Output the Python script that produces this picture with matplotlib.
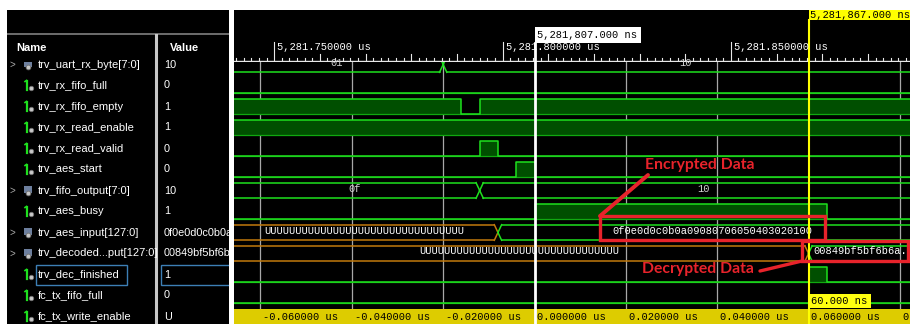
import matplotlib
matplotlib.use("Agg")
import matplotlib.pyplot as plt
from matplotlib.patches import Rectangle

W, H, DPI = 910, 324, 100

# absolute times of the two cursors (ns)
cursor_ns = 5281807
marker_ns = 5281867

signal_names = [
    "trv_uart_rx_byte[7:0]", "trv_rx_fifo_full", "trv_rx_fifo_empty",
    "trv_rx_read_enable", "trv_rx_read_valid", "trv_aes_start",
    "trv_fifo_output[7:0]", "trv_aes_busy", "trv_aes_input[127:0]",
    "trv_decoded...put[127:0]", "trv_dec_finished", "fc_tx_fifo_full",
    "fc_tx_write_enable",
]
signal_values = [
    "10", "0", "1", "1", "0", "0", "10", "1", "0f0e0d0c0b0a09080706050403020100",
    "00849bf5bf6b6a", "1", "0", "U",
]
bus_widths = [8, 1, 1, 1, 1, 1, 8, 1, 128, 128, 1, 1, 1]

# single-bit traces: start level and toggle times, ns relative to cursor
bit_waves = {
    "trv_rx_fifo_full": (0, []),
    "trv_rx_fifo_empty": (1, [-16, -12]),
    "trv_rx_read_enable": (1, []),
    "trv_rx_read_valid": (0, [-12, -8]),
    "trv_aes_start": (0, [-4, 0]),
    "trv_aes_busy": (0, [0, 64]),
    "trv_dec_finished": (0, [60, 64]),
    "fc_tx_fifo_full": (0, []),
}
# bus traces: (change time, value); first entry holds the value before the window
bus_waves = {
    "trv_uart_rx_byte[7:0]": [(None, "01"), (-20, "10")],
    "trv_fifo_output[7:0]": [(None, "0f"), (-12, "10")],
    "trv_aes_input[127:0]": [(None, "U" * 32), (-8, "0f0e0d0c0b0a09080706050403020100")],
    "trv_decoded...put[127:0]": [(None, "U" * 32), (60, "00849bf5bf6b6a")],
}

grid_ns = [-60, -40, -20, 0, 20, 40, 60, 80]

GREEN = "#1ee01e"
FILL = "#004f00"
ORANGE = "#c27a0c"
RED = "#e8232b"
MONO = "Liberation Mono"
SANS = "Liberation Sans"

PX_NS = 4.567          # pixels per ns in the wave view
X0_PX = 534.5          # pixel column of the main cursor
T_LEFT = (234 - X0_PX) / PX_NS
T_RIGHT = (910 - X0_PX) / PX_NS
VIEW_RIGHT = T_RIGHT + 14 / PX_NS
CHAR_NS = 6.25 / PX_NS
XW = 0.8


def px_ns(x):
    return (x - X0_PX) / PX_NS


def panel(x0, y0, x1, y1, xlim=None, color="black"):
    ax = fig.add_axes([x0 / W, 1 - y1 / H, (x1 - x0) / W, (y1 - y0) / H])
    ax.set_facecolor(color)
    ax.set_xlim(xlim if xlim else (x0, x1))
    ax.set_ylim(y1, y0)
    ax.set_xticks([])
    ax.set_yticks([])
    for s in ax.spines.values():
        s.set_visible(False)
    return ax


def row_top(i):
    return 54 + 21 * i


fig = plt.figure(figsize=(W / DPI, H / DPI), dpi=DPI, facecolor="white")

# ---- name / value panel ----
bg = panel(7, 10, 229, 324)
bg.plot([7, 229], [34, 34], color="#808080", lw=1.2)
bg.text(16, 48, "Name", color="white", fontsize=8, fontweight="bold",
        family=SANS, va="center")
bg.text(170, 48, "Value", color="white", fontsize=8, fontweight="bold",
        family=SANS, va="center")
bg.plot([156, 156], [35, 324], color="#c8c8c8", lw=2.2)

ax_n = panel(7, 62, 155, 324)
ax_v = panel(158, 62, 229, 324)
ax_n.patch.set_alpha(0)
ax_v.patch.set_alpha(0)

for i, (name, val, bw) in enumerate(zip(signal_names, signal_values, bus_widths)):
    yc = row_top(i) + 10.5
    if bw > 1:
        ax_n.text(12, yc, ">", color="#a8a8a8", fontsize=7, family=SANS,
                  va="center", ha="center")
        ax_n.add_patch(Rectangle((24, yc - 5), 8, 7, fc="#6d7f9e", ec="none"))
        ax_n.plot([28], [yc + 2], "o", ms=3.4, mfc="#c8c8c8", mec="#707070", mew=0.6)
    else:
        ax_n.plot([26.5, 26.5], [yc - 5, yc + 4], color=GREEN, lw=1.6)
        ax_n.plot([25, 26.5], [yc - 4, yc - 5], color=GREEN, lw=1.2)
        ax_n.plot([31], [yc + 2], "o", ms=3.2, mfc="#c8c8c8", mec="#707070", mew=0.6)
    ax_n.text(38, yc, name, color="white", fontsize=8, family=SANS, va="center")
    ax_v.text(164, yc, val, color="white", fontsize=7.8, family=SANS, va="center")

sel = signal_names.index("trv_dec_finished")
ax_n.add_patch(Rectangle((36, row_top(sel) + 1), 91, 20, fill=False,
                         ec="#3d7fb5", lw=1))
ax_v.add_patch(Rectangle((161, row_top(sel) + 1), 80, 20, fill=False,
                         ec="#3d7fb5", lw=1))

# ---- ruler ----
ax_r = panel(234, 10, 910, 62, xlim=(T_LEFT, T_RIGHT))
ax_r.plot([T_LEFT, T_RIGHT], [61, 61], color="#e8e8e8", lw=1)
base = 5281750
for k in range(-12, 100):
    t_abs = base + k * 5 / 3
    t = t_abs - cursor_ns
    if k % 30 == 0:
        ax_r.plot([t, t], [61, 42], color="#e8e8e8", lw=0.8)
        ax_r.text(t + 0.7, 46.5, f"{t_abs / 1000:,.6f} us", color="white",
                  fontsize=7.5, family=MONO, va="center")
    elif k % 6 == 0:
        ax_r.plot([t, t], [61, 54], color="#e8e8e8", lw=0.8)
    else:
        ax_r.plot([t, t], [61, 58], color="#e8e8e8", lw=0.8)

tip = f"{cursor_ns:,.3f} ns"
ax_r.add_patch(Rectangle((0, 27), len(tip) * CHAR_NS + 1.4, 16, fc="white", ec="none"))
ax_r.text(0.5, 35, tip, color="black", fontsize=7.5, family=MONO, va="center")
ax_r.plot([0, 0], [43, 62], color="white", lw=2)

dt = marker_ns - cursor_ns
ax_r.add_patch(Rectangle((dt, 10), T_RIGHT - dt, 10, fc="#ffff00", ec="none"))
ax_r.text(dt + 0.4, 15.2, f"{marker_ns:,.3f} ns", color="black", fontsize=7.5,
          family=MONO, va="center")
ax_r.plot([dt, dt], [20, 62], color="#ffff00", lw=1.5)

# ---- waveforms ----
ax_w = panel(234, 62, 910, 309, xlim=(T_LEFT, T_RIGHT))
for g in grid_ns:
    if g not in (0, dt):
        ax_w.plot([g, g], [62, 309], color="#a8a8a8", lw=0.9, zorder=1)

for i, name in enumerate(signal_names):
    hi = row_top(i) + 3
    lo = row_top(i) + 18.3
    if name in bit_waves:
        level, edges = bit_waves[name]
        xs, ys = [T_LEFT - 2], [level]
        for e in edges:
            level = 1 - level
            xs.append(e)
            ys.append(level)
        xs.append(T_RIGHT + 2)
        ys.append(level)
        yp = [hi if v else lo for v in ys]
        ax_w.fill_between(xs, yp, lo, step="post", color=FILL, lw=0, zorder=2)
        ax_w.plot([xs[0], xs[-1]], [lo, lo], color="#10a810", lw=0.9, zorder=3)
        ax_w.step(xs, yp, where="post", color=GREEN, lw=1.1, zorder=4)
    elif name in bus_waves:
        changes = bus_waves[name]
        mid = (hi + lo) / 2 - 0.15
        top, bot = row_top(i) + 2.7, lo
        times = [T_LEFT - 5] + [c[0] for c in changes[1:]] + [T_RIGHT + 5]
        nchar = max(1, bus_widths[i] // 4)
        for k, (_, val) in enumerate(changes):
            a, b = times[k], times[k + 1]
            col = ORANGE if set(val) == {"U"} else GREEN
            a_in = a + XW if k > 0 else a
            b_in = b - XW if k < len(changes) - 1 else b
            ax_w.plot([a_in, b_in], [top, top], color=col, lw=1.1, zorder=4)
            ax_w.plot([a_in, b_in], [bot, bot], color=col, lw=1.1, zorder=4)
            if k > 0:
                ax_w.plot([a, a_in], [mid, top], color=col, lw=1.1, zorder=4)
                ax_w.plot([a, a_in], [mid, bot], color=col, lw=1.1, zorder=4)
            if k < len(changes) - 1:
                ax_w.plot([b_in, b], [top, mid], color=col, lw=1.1, zorder=4)
                ax_w.plot([b_in, b], [bot, mid], color=col, lw=1.1, zorder=4)
            va_, vb_ = max(a_in, T_LEFT), min(b_in, VIEW_RIGHT)
            txt_col = "white" if col == ORANGE or nchar > 2 else "#d0d0d0"
            if nchar * CHAR_NS <= vb_ - va_:
                ax_w.text((va_ + vb_) / 2, mid - 2, val, color=txt_col, fontsize=7.5,
                          family=MONO, ha="center", va="center", zorder=5)
            else:
                ax_w.text(a_in + 0.3, mid - 2, val + "..", color=txt_col, fontsize=7.5,
                          family=MONO, ha="left", va="center", zorder=5)

ax_w.plot([0, 0], [62, 309], color="white", lw=2, zorder=6)
ax_w.plot([dt, dt], [62, 309], color="#ffff00", lw=1.5, zorder=6)
delta = f"{dt:.3f} ns"
ax_w.add_patch(Rectangle((dt, 294), len(delta) * CHAR_NS + 1.4, 14,
                         fc="#ffff10", ec="none", zorder=7))
ax_w.text(dt + 0.5, 301, delta, color="black", fontsize=7.5, family=MONO,
          va="center", zorder=8)

# annotations
ax_w.add_patch(Rectangle((px_ns(600), 216), px_ns(825) - px_ns(600), 23.5,
                         fill=False, ec=RED, lw=2.4, zorder=9))
ax_w.add_patch(Rectangle((px_ns(802), 241), px_ns(908) - px_ns(802), 20,
                         fill=False, ec=RED, lw=2.4, zorder=9))
ax_w.plot([px_ns(648), px_ns(600)], [175, 216], color=RED, lw=2.8,
          solid_capstyle="round", zorder=9)
ax_w.plot([px_ns(760), px_ns(802)], [271, 261], color=RED, lw=2.4,
          solid_capstyle="round", zorder=9)
ax_w.text(px_ns(645), 165, "Encrypted Data", color=RED, fontsize=11.3,
          fontweight="bold", family="Lato", va="center", zorder=9)
ax_w.text(px_ns(642), 269, "Decrypted Data", color=RED, fontsize=11.3,
          fontweight="bold", family="Lato", va="center", zorder=9)

# ---- time bar ----
ax_b = panel(234, 309, 910, 324, xlim=(T_LEFT, T_RIGHT), color="#ddcc00")
for g in grid_ns:
    ax_b.text(g + 0.6, 316.8, f"{g / 1000:.6f} us", color="black", fontsize=7.5,
              family=MONO, va="center")
ax_b.plot([0, 0], [309, 324], color="white", lw=2)
ax_b.plot([dt, dt], [309, 324], color="#ffff00", lw=1.5)

fig.savefig("out.png", dpi=DPI, facecolor="white")
